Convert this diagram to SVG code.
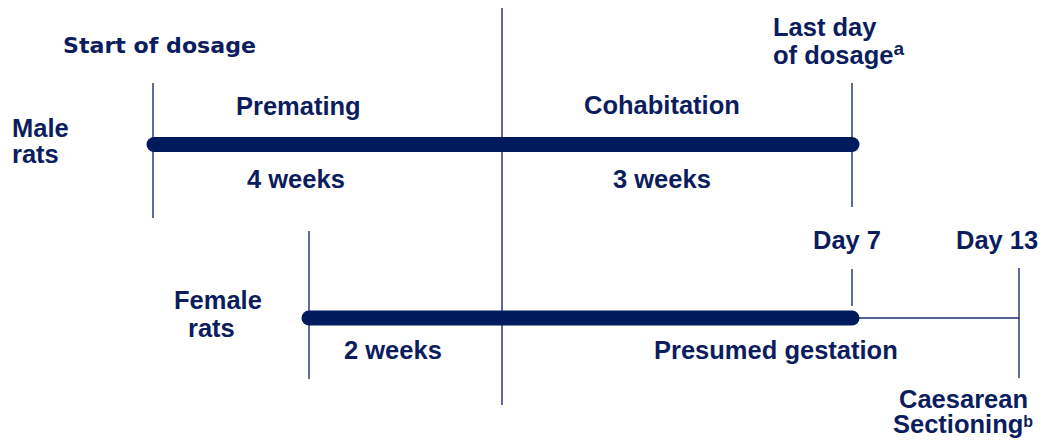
<svg xmlns="http://www.w3.org/2000/svg" width="1040" height="442" viewBox="0 0 1040 442">
  <style>
    .lbl { font-family: "Liberation Sans", Arial, sans-serif; font-weight: bold; font-size: 25.5px; fill: #0c1d5e; }
    .lbl2 { font-family: "DejaVu Sans", Verdana, sans-serif; font-weight: bold; font-size: 21.5px; fill: #0c1d5e; }
    .supa { font-size: 19px; }
    .supb { font-size: 16px; }
    .thin { stroke: #1e2d72; stroke-width: 1.4; fill: none; }
    .bar { stroke: #001a5e; stroke-width: 15; stroke-linecap: round; fill: none; }
  </style>
  <rect width="1040" height="442" fill="#ffffff"/>

  <!-- timeline rules and bars -->
  <g id="connectors">
    <line class="thin" x1="502" y1="8" x2="502" y2="405"/>
    <line class="thin" x1="153" y1="83" x2="153" y2="218"/>
    <line class="thin" x1="852" y1="83" x2="852" y2="207"/>
    <line class="thin" x1="309" y1="231" x2="309" y2="379"/>
    <line class="thin" x1="852" y1="269" x2="852" y2="306"/>
    <line class="thin" x1="852" y1="318" x2="1019" y2="318"/>
    <line class="thin" x1="1019" y1="268" x2="1019" y2="378"/>
    <line class="bar" x1="154" y1="144.5" x2="852" y2="144.5"/>
    <line class="bar" x1="309" y1="318" x2="852" y2="318"/>
  </g>

  <g id="start-of-dosage">
    <text class="lbl2" x="63" y="53" textLength="193" lengthAdjust="spacingAndGlyphs">Start of dosage</text>
  </g>
  <g id="male-rats">
    <text class="lbl" x="12" y="137">Male</text>
    <text class="lbl" x="12" y="163">rats</text>
  </g>
  <g id="premating">
    <text class="lbl" x="236" y="115">Premating</text>
    <text class="lbl" x="247" y="188">4 weeks</text>
  </g>
  <g id="cohabitation">
    <text class="lbl" x="584" y="114">Cohabitation</text>
    <text class="lbl" x="613" y="188">3 weeks</text>
  </g>
  <g id="last-day-of-dosage">
    <text class="lbl" x="773" y="36">Last day</text>
    <text class="lbl" x="773" y="64">of dosage<tspan class="supa" dy="-9">a</tspan></text>
  </g>
  <g id="day-7">
    <text class="lbl" x="813" y="249">Day 7</text>
  </g>
  <g id="day-13">
    <text class="lbl" x="956" y="249">Day 13</text>
  </g>
  <g id="female-rats">
    <text class="lbl" x="174" y="309">Female</text>
    <text class="lbl" x="188" y="337">rats</text>
  </g>
  <g id="two-weeks">
    <text class="lbl" x="344" y="359">2 weeks</text>
  </g>
  <g id="presumed-gestation">
    <text class="lbl" x="654" y="359">Presumed gestation</text>
  </g>
  <g id="caesarean-sectioning">
    <text class="lbl" x="899" y="408">Caesarean</text>
    <text class="lbl" x="893" y="433">Sectioning<tspan class="supb" dy="-6">b</tspan></text>
  </g>
</svg>
